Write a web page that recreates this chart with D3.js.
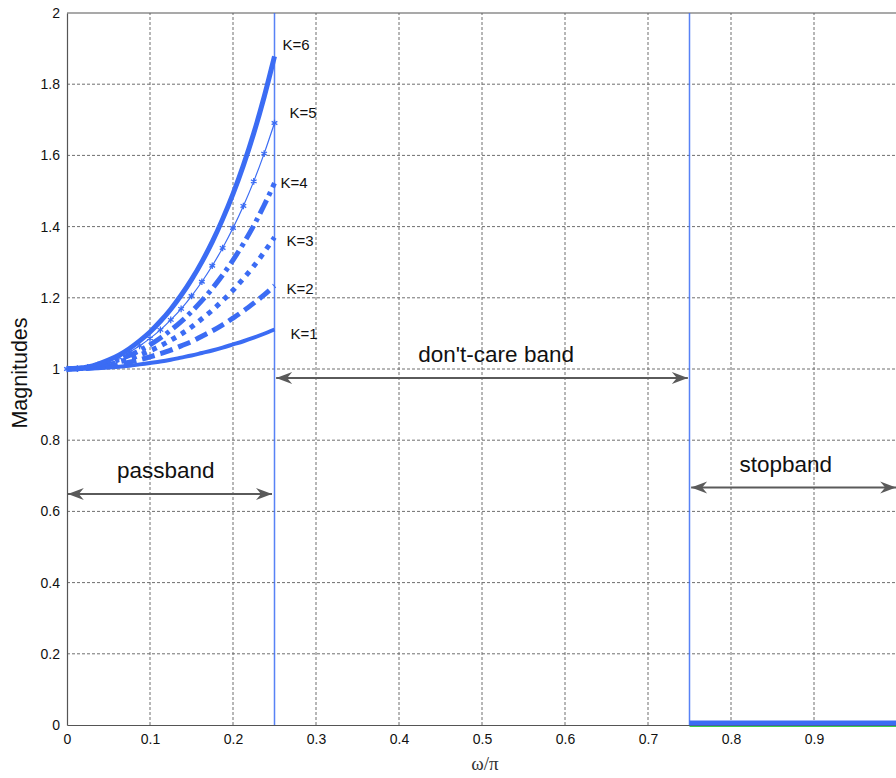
<!DOCTYPE html>
<html>
<head>
<meta charset="utf-8">
<script src="https://cdn.jsdelivr.net/npm/d3@7"></script>
<style>
  html, body { margin: 0; padding: 0; background: #fff; }
  svg { display: block; }
</style>
</head>
<body>
<svg id="chart" width="896" height="778"></svg>
<script>
// Normalised frequency samples (ω/π) across the passband
const freq = [0, 0.0125, 0.025, 0.0375, 0.05, 0.0625, 0.075, 0.0875, 0.1, 0.1125, 0.125,
              0.1375, 0.15, 0.1625, 0.175, 0.1875, 0.2, 0.2125, 0.225, 0.2375, 0.25];

// Compensator magnitude for each order K
const magK1 = [1, 1.000, 1.001, 1.002, 1.004, 1.006, 1.009, 1.013, 1.017, 1.021, 1.026,
               1.032, 1.038, 1.045, 1.052, 1.060, 1.069, 1.078, 1.088, 1.099, 1.111];
const magK2 = [1, 1.001, 1.002, 1.005, 1.008, 1.013, 1.019, 1.026, 1.034, 1.043, 1.053,
               1.065, 1.077, 1.092, 1.107, 1.124, 1.143, 1.163, 1.185, 1.208, 1.234];
const magK3 = [1, 1.001, 1.003, 1.007, 1.012, 1.020, 1.028, 1.039, 1.051, 1.065, 1.081,
               1.098, 1.118, 1.141, 1.165, 1.192, 1.221, 1.254, 1.289, 1.328, 1.370];
const magK4 = [1, 1.001, 1.004, 1.009, 1.017, 1.026, 1.038, 1.052, 1.068, 1.087, 1.109,
               1.133, 1.161, 1.192, 1.226, 1.264, 1.306, 1.352, 1.403, 1.460, 1.522];
const magK5 = [1, 1.001, 1.005, 1.012, 1.021, 1.033, 1.047, 1.065, 1.086, 1.110, 1.138,
               1.169, 1.205, 1.245, 1.290, 1.340, 1.396, 1.458, 1.527, 1.605, 1.691];
const magK6 = [1, 1.002, 1.006, 1.014, 1.025, 1.039, 1.057, 1.079, 1.104, 1.134, 1.168,
               1.207, 1.251, 1.301, 1.357, 1.421, 1.492, 1.572, 1.662, 1.764, 1.878];

const seriesNames = ["K=1", "K=2", "K=3", "K=4", "K=5", "K=6"];
const seriesValues = [magK1, magK2, magK3, magK4, magK5, magK6];

// Band edges and stopband target
const bandEdges = [0.25, 0.75];
const stopFreq = [0.75, 1];
const stopMag = [0, 0];

// Axis ticks (the frame ends at ω/π = 1, right at the page edge)
const xTicks = [0, 0.1, 0.2, 0.3, 0.4, 0.5, 0.6, 0.7, 0.8, 0.9];
const xTickLabels = ["0", "0.1", "0.2", "0.3", "0.4", "0.5", "0.6", "0.7", "0.8", "0.9"];
const yTicks = [0, 0.2, 0.4, 0.6, 0.8, 1, 1.2, 1.4, 1.6, 1.8, 2];
const yTickLabels = ["0", "0.2", "0.4", "0.6", "0.8", "1", "1.2", "1.4", "1.6", "1.8", "2"];

// Band annotations
const bandNames = ["passband", "don't-care band", "stopband"];
const bandFrom = [0.001, 0.252, 0.752];
const bandTo = [0.247, 0.748, 0.999];
const bandArrowLevel = [0.649, 0.975, 0.667];
const bandLabelX = [0.119, 0.517, 0.866];
const bandLabelLevel = [0.695, 1.02, 0.71];

const svg = d3.select("#chart");
const blue = "#3b6cf4";
const gridColor = "#6f6f6f";
const axisColor = "#555";
const sans = "Liberation Sans, Arial, sans-serif";

const x = d3.scaleLinear().domain([0, 1]).range([67, 897]);
const y = d3.scaleLinear().domain([0, 2]).range([725, 13]);

// Grid
const grid = svg.append("g");
grid.selectAll("line.v").data(xTicks.slice(1)).join("line")
  .attr("x1", d => x(d)).attr("x2", d => x(d))
  .attr("y1", y(0)).attr("y2", y(2))
  .attr("stroke", gridColor).attr("stroke-width", 1)
  .attr("stroke-dasharray", "3,2");
grid.selectAll("line.h").data(yTicks.slice(1, -1)).join("line")
  .attr("x1", x(0)).attr("x2", x(1))
  .attr("y1", d => y(d)).attr("y2", d => y(d))
  .attr("stroke", gridColor).attr("stroke-width", 1)
  .attr("stroke-dasharray", "3,2");

// Top edge of the frame
svg.append("line").attr("x1", x(0)).attr("x2", x(1)).attr("y1", y(2)).attr("y2", y(2))
  .attr("stroke", axisColor).attr("stroke-width", 1.2);

// Axes
const xAxis = svg.append("g").attr("transform", `translate(0,${y(0)})`)
  .call(d3.axisBottom(x).tickValues(xTicks).tickFormat((d, i) => xTickLabels[i]).tickSize(0).tickPadding(9));
const yAxis = svg.append("g").attr("transform", `translate(${x(0)},0)`)
  .call(d3.axisLeft(y).tickValues(yTicks).tickFormat((d, i) => yTickLabels[i]).tickSize(0).tickPadding(7));
[xAxis, yAxis].forEach(a => {
  a.attr("font-size", 14).attr("font-family", sans);
  a.select(".domain").attr("stroke", axisColor).attr("stroke-width", 1.2);
  a.selectAll("text").attr("fill", "#111");
});

// Band edges
svg.selectAll("line.edge").data(bandEdges).join("line")
  .attr("x1", d => x(d)).attr("x2", d => x(d))
  .attr("y1", y(0)).attr("y2", y(2))
  .attr("stroke", blue).attr("stroke-opacity", 0.85).attr("stroke-width", 1.5);

// Stopband target
svg.append("line").attr("x1", x(stopFreq[0])).attr("x2", x(stopFreq[1]))
  .attr("y1", y(stopMag[0]) + 1.5).attr("y2", y(stopMag[1]) + 1.5)
  .attr("stroke", "#3cd24a").attr("stroke-width", 1);
svg.append("line").attr("x1", x(stopFreq[0])).attr("x2", x(stopFreq[1]))
  .attr("y1", y(stopMag[0]) - 2).attr("y2", y(stopMag[1]) - 2)
  .attr("stroke", blue).attr("stroke-width", 5);

// Magnitude curves
const styles = [
  { w: 4, dash: null },
  { w: 5, dash: "13,6" },
  { w: 5, dash: "5,6" },
  { w: 5, dash: "15,5,4,5" },
  { w: 1.2, dash: null },
  { w: 5, dash: null }
];
const line = d3.line().x((d, i) => x(freq[i])).y(d => y(d)).curve(d3.curveMonotoneX);
const curves = svg.append("g");
seriesValues.forEach((vals, k) => {
  curves.append("path").datum(vals)
    .attr("d", line)
    .attr("fill", "none")
    .attr("stroke", blue)
    .attr("stroke-width", styles[k].w)
    .attr("stroke-dasharray", styles[k].dash)
    .attr("stroke-linejoin", "round");
});

// Star markers on K=5
const star = d3.symbol().type(d3.symbolAsterisk).size(30);
curves.selectAll("path.mk").data(magK5).join("path")
  .attr("transform", (d, i) => `translate(${x(freq[i])},${y(d)})`)
  .attr("d", star)
  .attr("fill", "none").attr("stroke", blue).attr("stroke-width", 1.3);

// Curve labels, placed beside each curve's end point
const labelDx = [16, 12, 12, 6, 15, 8];
const labelDy = [5, 3, 4, 0, -10, -11];
svg.selectAll("text.k").data(seriesNames).join("text")
  .attr("x", (d, i) => x(0.25) + labelDx[i])
  .attr("y", (d, i) => y(seriesValues[i][seriesValues[i].length - 1]) + labelDy[i] + 5)
  .attr("font-family", sans)
  .attr("font-size", 15).attr("fill", "#111")
  .text(d => d);

// Double-headed band arrows
const defs = svg.append("defs");
defs.append("marker").attr("id", "head")
  .attr("viewBox", "-18 -8 20 16").attr("markerWidth", 20).attr("markerHeight", 16)
  .attr("markerUnits", "userSpaceOnUse").attr("refX", 0).attr("refY", 0)
  .attr("orient", "auto-start-reverse")
  .append("path").attr("d", "M0,0 L-16,-6 L-11,0 L-16,6 Z").attr("fill", "#5a5a5a");

bandNames.forEach((name, i) => {
  svg.append("line")
    .attr("x1", x(bandFrom[i])).attr("x2", x(bandTo[i]))
    .attr("y1", y(bandArrowLevel[i])).attr("y2", y(bandArrowLevel[i]))
    .attr("stroke", "#5a5a5a").attr("stroke-width", 2)
    .attr("marker-start", "url(#head)")
    .attr("marker-end", "url(#head)");
  svg.append("text")
    .attr("x", x(bandLabelX[i])).attr("y", y(bandLabelLevel[i]))
    .attr("text-anchor", "middle")
    .attr("font-family", sans)
    .attr("font-size", 22.5).attr("fill", "#111")
    .text(name);
});

// Axis titles
svg.append("text")
  .attr("x", 485).attr("y", 770).attr("text-anchor", "middle")
  .attr("font-family", "Liberation Serif, Times New Roman, serif")
  .attr("font-size", 19).attr("fill", "#333")
  .text("ω/π");
svg.append("text")
  .attr("transform", "translate(27,373) rotate(-90)")
  .attr("text-anchor", "middle")
  .attr("font-family", sans)
  .attr("font-size", 21.5).attr("fill", "#111")
  .text("Magnitudes");
</script>
</body>
</html>
